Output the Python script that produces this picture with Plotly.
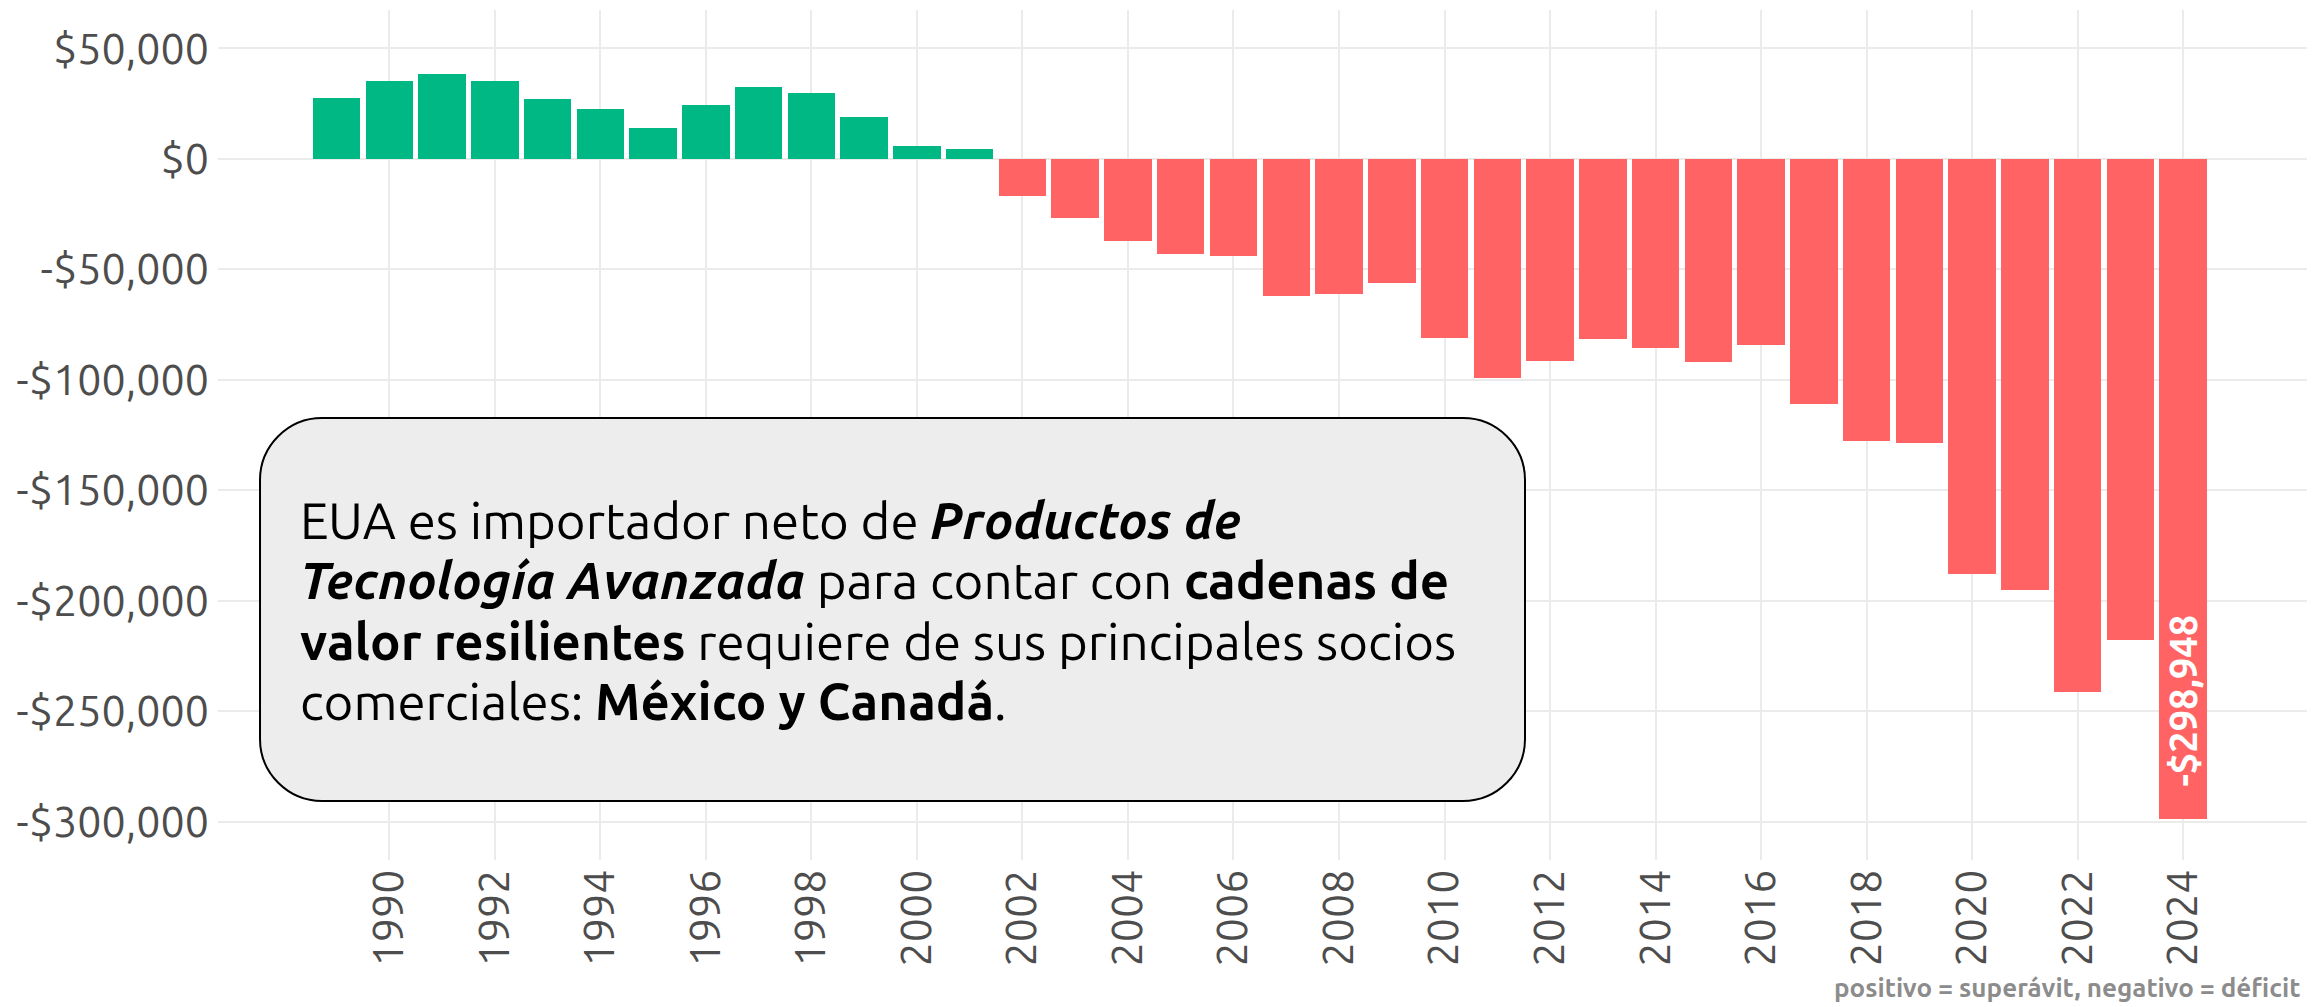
import plotly.graph_objects as go

# ---- data ----
years = list(range(1989, 2025))
balance = [
    27700, 35200, 38600, 35200, 27000, 22700, 13900, 24500, 32400, 29700,
    19000, 5700, 4400,
    -16800, -26800, -37000, -43000, -43800, -62100, -61200, -56200, -81100,
    -99100, -91500, -81300, -85700, -92100, -84000, -110800, -127700, -128600,
    -187900, -195200, -241400, -217800, -298948,
]
y_tick_vals = [50000, 0, -50000, -100000, -150000, -200000, -250000, -300000]
y_tick_text = ["$50,000", "$0", "-$50,000", "-$100,000", "-$150,000",
               "-$200,000", "-$250,000", "-$300,000"]
x_tick_vals = list(range(1990, 2025, 2))
x_tick_text = [str(v) for v in x_tick_vals]
box_lines = [
    "EUA es importador neto de <b><i>Productos de</i></b>",
    "<b><i>Tecnología Avanzada</i></b> para contar con <b>cadenas de</b>",
    "<b>valor resilientes</b> requiere de sus principales socios",
    "comerciales: <b>México y Canadá</b>.",
]
caption = "positivo = superávit, negativo = déficit"

GREEN = "#00B884"
RED = "#FF6363"
FONT = "Ubuntu, Lato, sans-serif"

OFF = 8  # page body margin
W, H = 2318 - OFF, 1007 - OFF
# plot area in page pixels
PL, PR, PT, PB = 218, 2307, 10, 860
L, R, T, B = PL - OFF, PR - OFF, PT - OFF, PB - OFF


def px2paper(px, py):
    """page pixel -> paper coords"""
    fx, fy = px - OFF, py - OFF
    return (fx - L) / (R - L), (B - fy) / (B - T)


colors = [GREEN if v > 0 else RED for v in balance]

fig = go.Figure()
fig.add_trace(go.Bar(
    x=years, y=balance, width=0.9,
    marker=dict(color=colors, line=dict(width=0)),
    hoverinfo="x+y",
))

# label on last bar
last_v = balance[-1]
fig.add_annotation(
    x=years[-1], y=last_v, xref="x", yref="y",
    text="<b>-$" + f"{abs(last_v):,}" + "</b>",
    textangle=-90, showarrow=False,
    xanchor="center", yanchor="bottom", yshift=31,
    font=dict(family=FONT, size=38, color="white"),
)

# rounded box
bx0, by0, bx1, by1, rad = 260, 418, 1525, 801, 62
k = 0.45


def P(px, py):
    x, y = px2paper(px, py)
    return f"{x:.5f},{y:.5f}"


path = (
    f"M {P(bx0 + rad, by0)} L {P(bx1 - rad, by0)} "
    f"C {P(bx1 - rad * k, by0)} {P(bx1, by0 + rad * k)} {P(bx1, by0 + rad)} "
    f"L {P(bx1, by1 - rad)} "
    f"C {P(bx1, by1 - rad * k)} {P(bx1 - rad * k, by1)} {P(bx1 - rad, by1)} "
    f"L {P(bx0 + rad, by1)} "
    f"C {P(bx0 + rad * k, by1)} {P(bx0, by1 - rad * k)} {P(bx0, by1 - rad)} "
    f"L {P(bx0, by0 + rad)} "
    f"C {P(bx0, by0 + rad * k)} {P(bx0 + rad * k, by0)} {P(bx0 + rad, by0)} Z"
)
fig.add_shape(type="path", path=path, xref="paper", yref="paper",
              fillcolor="#EDEDED", line=dict(color="black", width=2), layer="above")

line_centers = [520, 580, 641, 701]
for txt, cy in zip(box_lines, line_centers):
    tx, ty = px2paper(298, cy)
    fig.add_annotation(
        x=tx, y=ty, xref="paper", yref="paper", text=txt,
        showarrow=False, xanchor="left", yanchor="middle", align="left",
        font=dict(family=FONT, size=51, color="black"),
    )

# caption
cx, cy = px2paper(2302, 987)
fig.add_annotation(
    x=cx, y=cy, xref="paper", yref="paper",
    text="<b>" + caption + "</b>",
    showarrow=False, xanchor="right", yanchor="middle",
    font=dict(family=FONT, size=26, color="#8C8C8C"),
)

fig.update_layout(
    width=W, height=H,
    margin=dict(l=L, r=W - R, t=T, b=H - B, pad=0),
    paper_bgcolor="white", plot_bgcolor="white",
    showlegend=False,
    bargap=0,
    xaxis=dict(
        range=[1986.753, 2026.347],
        tickvals=x_tick_vals, ticktext=x_tick_text, tickangle=-90,
        tickfont=dict(family=FONT, size=43, color="#4D4D4D"),
        showgrid=True, gridcolor="#EBEBEB", gridwidth=2,
        zeroline=False, showline=False, ticks="", ticklabelstandoff=0,
    ),
    yaxis=dict(
        range=[-317300, 67400],
        tickvals=y_tick_vals, ticktext=y_tick_text,
        tickfont=dict(family=FONT, size=43, color="#4D4D4D"),
        showgrid=True, gridcolor="#EBEBEB", gridwidth=2,
        zeroline=False, showline=False, ticks="", ticklabelstandoff=8,
    ),
)

fig.write_html("out.html")
